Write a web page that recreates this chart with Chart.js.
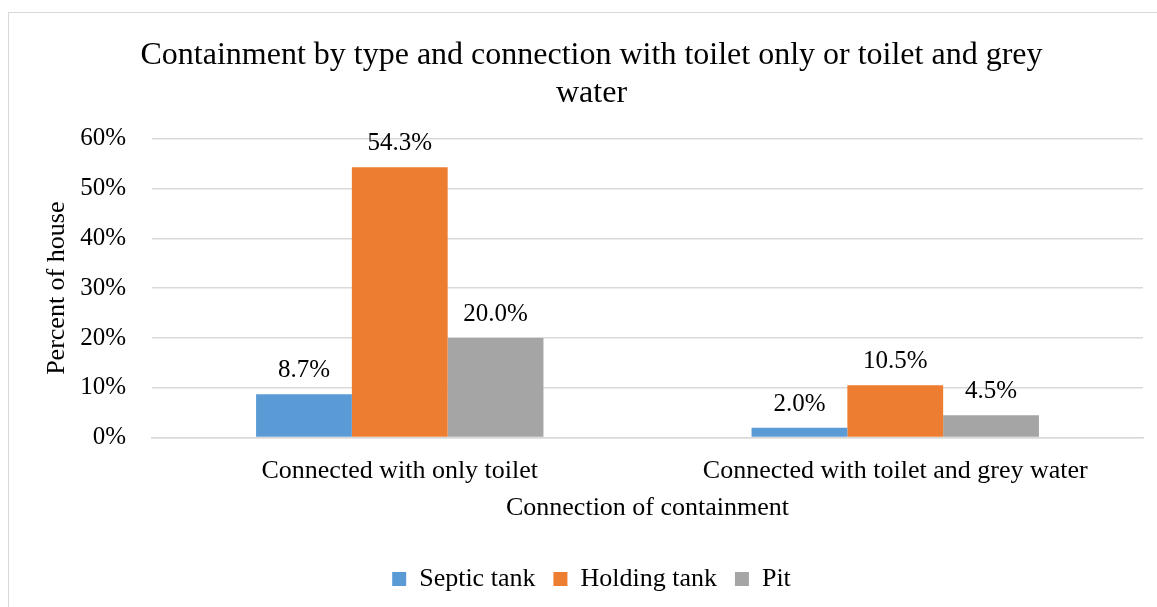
<!DOCTYPE html>
<html>
<head>
<meta charset="utf-8">
<script src="https://cdn.jsdelivr.net/npm/chart.js@4"></script>
<style>
  html, body { margin: 0; padding: 0; background: #fff; overflow: hidden; }
  #frame { position: absolute; left: 8px; top: 12px; width: 1170px; height: 620px; border: 1px solid #d9d9d9; box-sizing: border-box; }
  #wrap { position: absolute; left: 0; top: 0; width: 1157px; height: 607px; }
</style>
</head>
<body>
<div id="frame"></div>
<div id="wrap"><canvas id="chart"></canvas></div>
<script>
// data
const categories = ['Connected with only toilet', 'Connected with toilet and grey water'];
const septicTank = [8.7, 2.0];
const holdingTank = [54.3, 10.5];
const pit = [20.0, 4.5];

const FONT = "'Liberation Serif', 'Times New Roman', serif";

// labels over each bar
const valueLabels = {
    id: 'valueLabels',
    afterDatasetsDraw(chart) {
        const ctx = chart.ctx;
        ctx.save();
        ctx.font = `25px ${FONT}`;
        ctx.fillStyle = '#000';
        ctx.textAlign = 'center';
        ctx.textBaseline = 'alphabetic';
        chart.data.datasets.forEach((ds, i) => {
            chart.getDatasetMeta(i).data.forEach((bar, j) => {
                ctx.fillText(ds.data[j].toFixed(1) + '%', bar.x, bar.y - 17);
            });
        });
        ctx.restore();
    }
};

new Chart(document.getElementById('chart'), {
    type: 'bar',
    data: {
        labels: categories,
        datasets: [
            { label: 'Septic tank', data: septicTank, backgroundColor: '#5B9BD5' },
            { label: 'Holding tank', data: holdingTank, backgroundColor: '#ED7D31' },
            { label: 'Pit', data: pit, backgroundColor: '#A5A5A5' }
        ]
    },
    options: {
        responsive: true,
        maintainAspectRatio: false,
        animation: false,
        devicePixelRatio: 1,
        layout: { padding: { left: 40, right: 14, top: 12, bottom: 5 } },
        datasets: { bar: { barPercentage: 1.0, categoryPercentage: 0.58 } },
        plugins: {
            title: {
                display: true,
                text: ['Containment by type and connection with toilet only or toilet and grey', 'water'],
                color: '#000',
                font: { family: FONT, size: 32, weight: 'normal' },
                lineHeight: 1.1,
                padding: { top: 24, bottom: 26 }
            },
            legend: {
                position: 'bottom',
                labels: {
                    color: '#000',
                    font: { family: FONT, size: 26 },
                    boxWidth: 14,
                    boxHeight: 14,
                    padding: 18
                }
            },
            tooltip: { enabled: false }
        },
        scales: {
            x: {
                grid: { display: false, drawTicks: false },
                border: { display: true, color: '#d9d9d9', width: 1.5 },
                ticks: { color: '#000', font: { family: FONT, size: 26 }, padding: 18 },
                title: { display: true, text: 'Connection of containment', color: '#000', font: { family: FONT, size: 26 }, padding: { top: -12, bottom: 24 } }
            },
            y: {
                min: 0,
                max: 60,
                grid: { color: '#d9d9d9', lineWidth: 1.5, drawTicks: false },
                border: { display: false },
                ticks: { stepSize: 10, color: '#000', font: { family: FONT, size: 25 }, padding: 26, callback: v => v + '%' },
                title: { display: true, text: 'Percent of house', color: '#000', font: { family: FONT, size: 26 }, padding: { top: 2, bottom: -19 } }
            }
        }
    },
    plugins: [valueLabels]
});
</script>
</body>
</html>
